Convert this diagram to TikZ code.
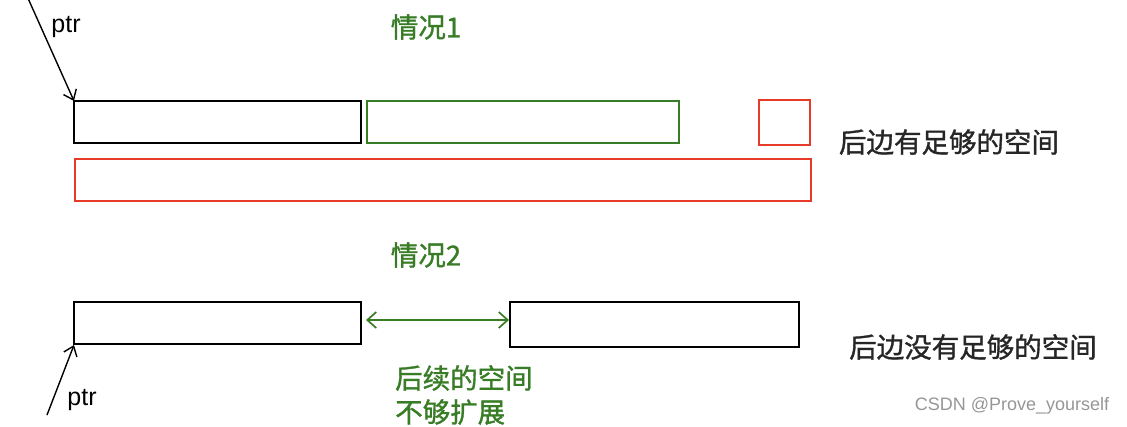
\documentclass[tikz,border=0pt]{standalone}
\usepackage{fontspec}
\setmainfont{Liberation Sans}
\newfontfamily\cjk[FakeBold=1.2]{Noto Sans CJK SC}
\usetikzlibrary{arrows.meta}
\definecolor{dgreen}{RGB}{56,125,38}
\definecolor{myred}{RGB}{232,58,40}
\definecolor{wm}{RGB}{150,150,150}
\tikzset{
  blk/.style={draw=black, line width=2.4pt},
  grn/.style={draw=dgreen, line width=2.4pt},
  rd/.style={draw=myred, line width=2.4pt},
  ptrarrow/.style={draw=black, line width=1.4pt, -{Straight Barb[length=9pt,width=14pt,line width=1.4pt]}},
  dblarrow/.style={draw=dgreen, line width=1.7pt, {Straight Barb[length=9pt,width=16pt,line width=1.7pt]}-{Straight Barb[length=9pt,width=16pt,line width=1.7pt]}},
  cntxt/.style={font=\cjk\fontsize{27.5}{32}\selectfont, inner sep=0pt},
  lbl/.style={font=\fontsize{25}{29}\selectfont, inner sep=0pt}
}
\begin{document}
\begin{tikzpicture}[x=1pt,y=-1pt]
\useasboundingbox (0,0) rectangle (1127,426);
% case 1
\node[cntxt, text=dgreen] (c1) at (426,27) {情况1};
\draw[blk] (74,101) rectangle (361,143);
\coordinate (b1) at (74,101);
\draw[grn] (367,101) rectangle (679,143);
\draw[rd] (759,100) rectangle (810,145);
\draw[rd] (75,159) rectangle (811,201);
\node[cntxt, text=black!85] (t1) at (949,142) {后边有足够的空间};
\coordinate (p1s) at (27,-4);
\draw[ptrarrow] (p1s) -- (b1);
\node[lbl] (ptr1) at (66,27) {ptr};
% case 2
\node[cntxt, text=dgreen] (c2) at (426,255) {情况2};
\draw[blk] (74,302) rectangle (361,344);
\coordinate (b2) at (74,345);
\draw[blk] (510,302) rectangle (799,347);
\coordinate (g1) at (366,320);
\coordinate (g2) at (509,320);
\draw[dblarrow] (g1) -- (g2);
\coordinate (p2s) at (47,415);
\draw[ptrarrow] (p2s) -- (b2);
\node[lbl] (ptr2) at (82,400) {ptr};
\node[cntxt, text=dgreen, anchor=west] (t3) at (395,378) {后续的空间};
\node[cntxt, text=dgreen, anchor=west] (t4) at (395,412) {不够扩展};
\node[cntxt, text=black!85] (t2) at (973,347) {后边没有足够的空间};
\node[font=\fontsize{18}{22}\selectfont, text=wm, inner sep=0pt] (wmk) at (1012,406) {CSDN @Prove\_yourself};
\end{tikzpicture}
\end{document}
